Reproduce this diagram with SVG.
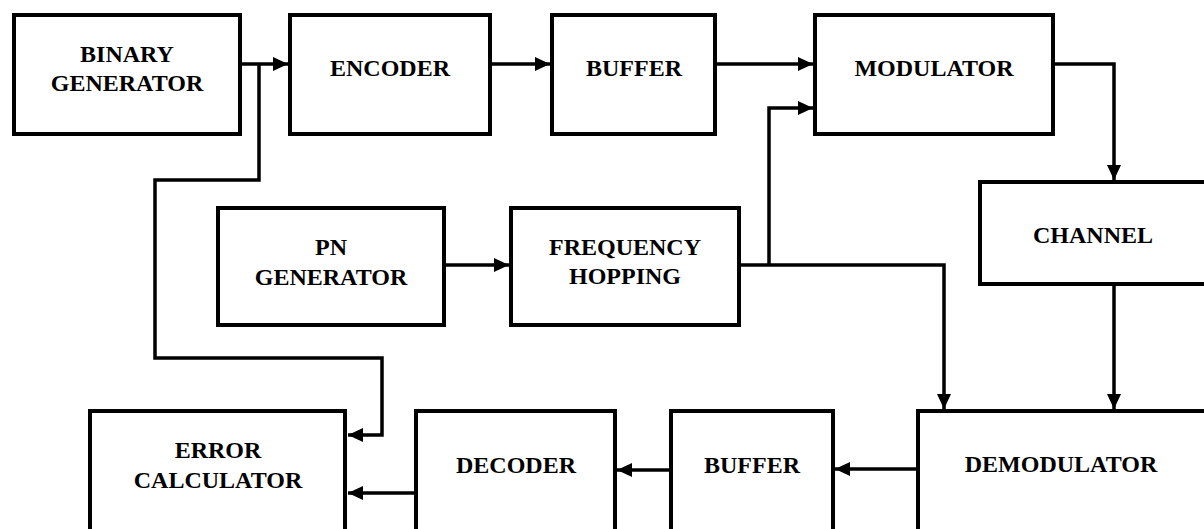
<svg xmlns="http://www.w3.org/2000/svg" width="1204" height="529" viewBox="0 0 1204 529">
<style>
.box{fill:#fff;stroke:#000;stroke-width:4}
.lbl{font-family:"Liberation Serif","Times New Roman",serif;font-weight:bold;font-size:24px;fill:#000;text-anchor:middle}
.con{fill:none;stroke:#000;stroke-width:3.5}
</style>
<defs>
<marker id="ah" markerUnits="userSpaceOnUse" markerWidth="16" markerHeight="14" refX="15" refY="7" orient="auto">
<path d="M0,0 L15,7 L0,14 z" fill="#000"/>
</marker>
</defs>
<rect width="1204" height="529" fill="#fff"/>
<g id="connectors">
<path class="con" d="M242,64 H288" marker-end="url(#ah)"/>
<path class="con" d="M259,64 V180 H155 V358 H382 V435 H348" marker-end="url(#ah)"/>
<path class="con" d="M492,64 H550" marker-end="url(#ah)"/>
<path class="con" d="M717,64 H813" marker-end="url(#ah)"/>
<path class="con" d="M446,265 H509" marker-end="url(#ah)"/>
<path class="con" d="M741,265 H944 V409" marker-end="url(#ah)"/>
<path class="con" d="M769,265 V108 H813" marker-end="url(#ah)"/>
<path class="con" d="M1055,64 H1114 V180" marker-end="url(#ah)"/>
<path class="con" d="M1114,286 V409" marker-end="url(#ah)"/>
<path class="con" d="M916,469 H835" marker-end="url(#ah)"/>
<path class="con" d="M669,470 H617" marker-end="url(#ah)"/>
<path class="con" d="M414,493 H348" marker-end="url(#ah)"/>
</g>
<g id="binary-generator">
<rect class="box" x="14" y="15" width="226" height="119"/>
<text class="lbl" x="127" y="62">BINARY</text>
<text class="lbl" x="127" y="91">GENERATOR</text>
</g>
<g id="encoder">
<rect class="box" x="290" y="15" width="200" height="119"/>
<text class="lbl" x="390" y="76">ENCODER</text>
</g>
<g id="buffer-tx">
<rect class="box" x="552" y="15" width="163" height="119"/>
<text class="lbl" x="634" y="76">BUFFER</text>
</g>
<g id="modulator">
<rect class="box" x="815" y="15" width="238" height="119"/>
<text class="lbl" x="934" y="76">MODULATOR</text>
</g>
<g id="channel">
<rect class="box" x="980" y="182" width="240" height="102"/>
<text class="lbl" x="1093" y="243">CHANNEL</text>
</g>
<g id="pn-generator">
<rect class="box" x="218" y="208" width="226" height="117"/>
<text class="lbl" x="331" y="255">PN</text>
<text class="lbl" x="331" y="285">GENERATOR</text>
</g>
<g id="frequency-hopping">
<rect class="box" x="511" y="208" width="228" height="117"/>
<text class="lbl" x="625" y="255">FREQUENCY</text>
<text class="lbl" x="625" y="284">HOPPING</text>
</g>
<g id="error-calculator">
<rect class="box" x="90" y="411" width="255" height="150"/>
<text class="lbl" x="218" y="458">ERROR</text>
<text class="lbl" x="218" y="488">CALCULATOR</text>
</g>
<g id="decoder">
<rect class="box" x="416" y="411" width="199" height="150"/>
<text class="lbl" x="516" y="473">DECODER</text>
</g>
<g id="buffer-rx">
<rect class="box" x="671" y="411" width="162" height="150"/>
<text class="lbl" x="752" y="473">BUFFER</text>
</g>
<g id="demodulator">
<rect class="box" x="918" y="411" width="300" height="150"/>
<text class="lbl" x="1061" y="472">DEMODULATOR</text>
</g>
</svg>
